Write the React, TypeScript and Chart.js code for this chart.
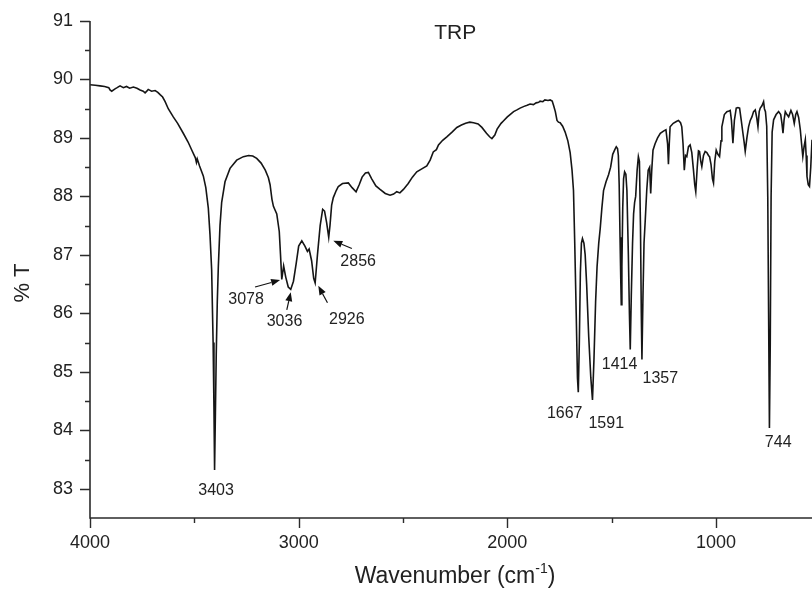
import React, { useEffect, useRef } from "react";
import { Chart, registerables } from "chart.js";

Chart.register(...registerables);

// ---- Data: IR spectrum of TRP, [wavenumber (cm-1), %T] ----
const BAND_4000_3100: [number, number][] = [
  [4000, 89.91], [3975, 89.9], [3952, 89.89], [3930, 89.88], [3910, 89.86], [3904, 89.82], [3896, 89.8],
  [3880, 89.84], [3870, 89.86], [3856, 89.89], [3840, 89.86], [3825, 89.88], [3810, 89.85], [3792, 89.87],
  [3775, 89.85], [3760, 89.82], [3745, 89.8], [3736, 89.77], [3728, 89.8], [3721, 89.83], [3705, 89.8],
  [3688, 89.81], [3675, 89.78], [3664, 89.74], [3652, 89.7], [3640, 89.62], [3625, 89.5], [3601, 89.36],
  [3580, 89.25], [3553, 89.08], [3530, 88.93], [3512, 88.79], [3495, 88.66], [3490, 88.58], [3486, 88.64],
  [3475, 88.52], [3457, 88.35], [3445, 88.15], [3433, 87.8], [3425, 87.35], [3417, 86.74], [3410, 85.5],
  [3406, 84.4], [3403, 83.32], [3399, 84.3], [3395, 85.3], [3390, 86.2], [3385, 86.8], [3377, 87.5],
  [3369, 87.9], [3353, 88.25], [3329, 88.48], [3297, 88.62], [3265, 88.68], [3240, 88.7], [3220, 88.69],
  [3201, 88.65], [3180, 88.57], [3160, 88.45], [3145, 88.32], [3137, 88.2], [3128, 87.95], [3121, 87.83],
];
const BAND_3100_2000: [number, number][] = [
  [3105, 87.7], [3093, 87.4], [3087, 87.0], [3081, 86.58], [3072, 86.81], [3062, 86.62], [3050, 86.45],
  [3038, 86.41], [3025, 86.55], [3012, 86.85], [3000, 87.15], [2985, 87.24], [2970, 87.15], [2958, 87.06],
  [2950, 87.1], [2938, 86.9], [2928, 86.6], [2921, 86.52], [2910, 87.0], [2897, 87.5], [2885, 87.78],
  [2876, 87.75], [2866, 87.55], [2856, 87.3], [2850, 87.5], [2842, 87.85], [2834, 87.98], [2820, 88.1],
  [2810, 88.17], [2790, 88.22], [2762, 88.23], [2744, 88.15], [2725, 88.08], [2710, 88.2], [2696, 88.33],
  [2680, 88.4], [2666, 88.41], [2650, 88.3], [2630, 88.18], [2610, 88.12], [2585, 88.05], [2562, 88.02],
  [2545, 88.04], [2530, 88.08], [2515, 88.06], [2498, 88.12], [2475, 88.22], [2455, 88.33], [2434, 88.42],
  [2410, 88.47], [2386, 88.52], [2370, 88.62], [2355, 88.76], [2340, 88.8], [2330, 88.88], [2310, 88.96],
  [2290, 89.02], [2265, 89.1], [2242, 89.18], [2220, 89.22], [2200, 89.25], [2180, 89.27], [2162, 89.26],
  [2140, 89.24], [2122, 89.18], [2100, 89.08], [2085, 89.02], [2074, 88.99], [2060, 89.05], [2049, 89.15],
  [2030, 89.25], [2019, 89.29],
];
const BAND_2000_1300: [number, number][] = [
  [2000, 89.36], [1987, 89.4], [1970, 89.45], [1954, 89.48], [1939, 89.51], [1920, 89.54], [1905, 89.56],
  [1891, 89.58], [1875, 89.57], [1862, 89.6], [1850, 89.61], [1843, 89.63], [1830, 89.62], [1820, 89.65],
  [1805, 89.64], [1795, 89.65], [1785, 89.63], [1778, 89.55], [1770, 89.45], [1762, 89.3], [1755, 89.27],
  [1747, 89.26], [1735, 89.2], [1723, 89.1], [1710, 88.95], [1699, 88.75], [1690, 88.45], [1683, 88.1],
  [1677, 87.2], [1670, 86.0], [1664, 84.9], [1660, 84.65], [1655, 85.5], [1650, 86.7], [1645, 87.2],
  [1640, 87.28], [1633, 87.2], [1627, 87.0], [1620, 86.5], [1610, 85.6], [1600, 84.9], [1592, 84.52],
  [1585, 85.2], [1577, 86.2], [1570, 86.8], [1562, 87.2], [1555, 87.45], [1547, 87.8], [1539, 88.1],
  [1527, 88.25], [1515, 88.37], [1505, 88.5], [1495, 88.72], [1485, 88.8], [1478, 88.85], [1472, 88.82],
  [1468, 88.7], [1464, 88.2], [1460, 87.3], [1456, 86.5], [1454, 86.15], [1451, 86.8], [1447, 87.8],
  [1443, 88.3], [1438, 88.42], [1432, 88.38], [1427, 88.1], [1420, 87.0], [1415, 86.0], [1411, 85.38],
  [1406, 86.3], [1400, 87.2], [1395, 87.7], [1390, 87.9], [1385, 88.0], [1378, 88.45], [1372, 88.68],
  [1367, 88.6], [1362, 87.5], [1358, 86.0], [1355, 85.21], [1350, 86.3], [1345, 87.2], [1339, 87.6],
  [1332, 88.1], [1325, 88.45], [1318, 88.5], [1313, 88.05], [1308, 88.45], [1302, 88.79],
];
const BAND_1300_540: [number, number][] = [
  [1292, 88.9], [1280, 89.0], [1267, 89.08], [1250, 89.12], [1240, 89.14], [1232, 88.9], [1228, 88.55],
  [1224, 88.9], [1220, 89.19], [1205, 89.25], [1190, 89.28], [1180, 89.3], [1170, 89.26], [1164, 89.19],
  [1158, 88.9], [1152, 88.45], [1146, 88.7], [1140, 88.68], [1132, 88.85], [1124, 88.88], [1116, 88.75],
  [1108, 88.45], [1102, 88.2], [1097, 88.08], [1090, 88.5], [1084, 88.78], [1079, 88.77], [1073, 88.6],
  [1068, 88.51], [1060, 88.7], [1052, 88.77], [1044, 88.75], [1036, 88.7], [1031, 88.68], [1024, 88.55],
  [1017, 88.3], [1012, 88.23], [1006, 88.6], [999, 88.79], [991, 88.72], [983, 88.68], [976, 88.95],
  [972, 89.19], [960, 89.4], [948, 89.45], [938, 89.46], [932, 89.47], [926, 89.3], [919, 88.91],
  [912, 89.3], [903, 89.51], [895, 89.52], [887, 89.51], [879, 89.3], [871, 89.08], [866, 88.95],
  [860, 88.77], [852, 89.0], [844, 89.19], [836, 89.3], [828, 89.36], [820, 89.45], [812, 89.48],
  [805, 89.35], [799, 89.19], [793, 89.45], [788, 89.51], [780, 89.55], [772, 89.62], [768, 89.5],
  [763, 89.45], [757, 89.2], [752, 88.0], [748, 86.0], [744, 84.04], [740, 85.5], [736, 88.0],
  [731, 89.1], [724, 89.31], [712, 89.4], [700, 89.45], [690, 89.4], [684, 89.25], [679, 89.08],
  [674, 89.3], [668, 89.45], [660, 89.4], [652, 89.36], [646, 89.42], [641, 89.47], [633, 89.4],
  [625, 89.25], [618, 89.4], [612, 89.45], [604, 89.35], [596, 89.14], [590, 88.9], [584, 88.68],
  [578, 88.85], [572, 88.97], [568, 88.7], [564, 88.34], [558, 88.2], [552, 88.17], [546, 88.5], [540, 88.97],
];

// Axis ranges and ticks
const X_MIN = 540;
const X_MAX = 4000;
const Y_MIN = 82.5;
const Y_MAX = 91;
const X_MAJOR_TICKS = [4000, 3000, 2000, 1000];
const X_MINOR_TICKS = [3500, 2500, 1500];
const Y_MAJOR_TICKS = [83, 84, 85, 86, 87, 88, 89, 90, 91];
const Y_MINOR_TICKS = [83.5, 84.5, 85.5, 86.5, 87.5, 88.5, 89.5, 90.5];

// Peak labels: text, label anchor (wavenumber, %T)
const PEAK_LABELS: [string, number, number][] = [
  ["3403", 3396, 82.97],
  ["3078", 3252, 86.24],
  ["3036", 3068, 85.86],
  ["2926", 2769, 85.9],
  ["2856", 2715, 86.88],
  ["1667", 1725, 84.29],
  ["1591", 1526, 84.12],
  ["1414", 1462, 85.12],
  ["1357", 1267, 84.89],
  ["744", 702, 83.79],
];
// Arrows: from (wn, %T) to (wn, %T)
const PEAK_ARROWS: [number, number, number, number][] = [
  [3209, 86.45, 3089, 86.57],
  [3057, 86.06, 3038, 86.36],
  [2862, 86.18, 2906, 86.47],
  [2745, 87.11, 2834, 87.24],
];
const TITLE: [string, number, number] = ["TRP", 2250, 90.79];

const FONT = '"Liberation Sans", Arial, Helvetica, sans-serif';

export default function App() {
  const ref = useRef<HTMLCanvasElement | null>(null);

  useEffect(() => {
    const canvas = ref.current;
    if (!canvas) return;
    const data = [...BAND_4000_3100, ...BAND_3100_2000, ...BAND_2000_1300, ...BAND_1300_540].map(
      ([x, y]) => ({ x, y })
    );

    const decor = {
      id: "irDecor",
      afterDraw(chart: any) {
        const ctx = chart.ctx as CanvasRenderingContext2D;
        const xs = chart.scales.x;
        const ys = chart.scales.y;
        const area = chart.chartArea;
        const axisColor = "#2b2b2b";
        const textColor = "#222";
        ctx.save();
        // axes lines
        ctx.strokeStyle = axisColor;
        ctx.lineWidth = 1.6;
        ctx.beginPath();
        ctx.moveTo(area.left, ys.getPixelForValue(Y_MAX));
        ctx.lineTo(area.left, area.bottom);
        ctx.lineTo(area.right, area.bottom);
        ctx.stroke();
        // y ticks
        ctx.lineWidth = 1.4;
        ctx.beginPath();
        Y_MAJOR_TICKS.forEach((v) => {
          const py = Math.round(ys.getPixelForValue(v)) + 0.5;
          ctx.moveTo(area.left - 10, py);
          ctx.lineTo(area.left, py);
        });
        Y_MINOR_TICKS.forEach((v) => {
          const py = Math.round(ys.getPixelForValue(v)) + 0.5;
          ctx.moveTo(area.left - 5, py);
          ctx.lineTo(area.left, py);
        });
        X_MAJOR_TICKS.forEach((v) => {
          const px = Math.round(xs.getPixelForValue(v)) + 0.5;
          ctx.moveTo(px, area.bottom);
          ctx.lineTo(px, area.bottom + 10);
        });
        X_MINOR_TICKS.forEach((v) => {
          const px = Math.round(xs.getPixelForValue(v)) + 0.5;
          ctx.moveTo(px, area.bottom);
          ctx.lineTo(px, area.bottom + 5);
        });
        ctx.stroke();

        // tick labels
        ctx.fillStyle = textColor;
        ctx.font = `18px ${FONT}`;
        ctx.textAlign = "right";
        ctx.textBaseline = "middle";
        Y_MAJOR_TICKS.forEach((v) => {
          ctx.fillText(String(v), area.left - 17, ys.getPixelForValue(v));
        });
        ctx.textAlign = "center";
        X_MAJOR_TICKS.forEach((v) => {
          ctx.fillText(String(v), xs.getPixelForValue(v), area.bottom + 25);
        });

        // x title with superscript
        const main = "Wavenumber (cm";
        const sup = "-1";
        const close = ")";
        ctx.font = `23px ${FONT}`;
        const wMain = ctx.measureText(main).width;
        const wClose = ctx.measureText(close).width;
        ctx.font = `14px ${FONT}`;
        const wSup = ctx.measureText(sup).width;
        const total = wMain + wSup + wClose;
        const cx = (area.left + area.right) / 2 + 4;
        let tx = cx - total / 2;
        const ty = area.bottom + 59;
        ctx.textAlign = "left";
        ctx.textBaseline = "middle";
        ctx.font = `23px ${FONT}`;
        ctx.fillText(main, tx, ty);
        tx += wMain;
        ctx.font = `14px ${FONT}`;
        ctx.fillText(sup, tx, ty - 8);
        tx += wSup;
        ctx.font = `23px ${FONT}`;
        ctx.fillText(close, tx, ty);

        // y title
        ctx.save();
        ctx.translate(23, 283);
        ctx.rotate(-Math.PI / 2);
        ctx.textAlign = "center";
        ctx.font = `22px ${FONT}`;
        ctx.fillText("% T", 0, 0);
        ctx.restore();

        // chart title
        ctx.font = `21px ${FONT}`;
        ctx.textAlign = "center";
        ctx.fillText(TITLE[0], xs.getPixelForValue(TITLE[1]), ys.getPixelForValue(TITLE[2]));

        // peak labels
        ctx.font = `16px ${FONT}`;
        PEAK_LABELS.forEach(([t, wn, v]) => {
          ctx.fillText(t, xs.getPixelForValue(wn), ys.getPixelForValue(v));
        });

        // arrows
        ctx.strokeStyle = "#111";
        ctx.fillStyle = "#111";
        ctx.lineWidth = 1.2;
        PEAK_ARROWS.forEach(([w1, t1, w2, t2]) => {
          const x1 = xs.getPixelForValue(w1);
          const y1 = ys.getPixelForValue(t1);
          const x2 = xs.getPixelForValue(w2);
          const y2 = ys.getPixelForValue(t2);
          const ang = Math.atan2(y2 - y1, x2 - x1);
          const hl = 9;
          const hw = 3.5;
          const bx = x2 - hl * Math.cos(ang);
          const by = y2 - hl * Math.sin(ang);
          ctx.beginPath();
          ctx.moveTo(x1, y1);
          ctx.lineTo(bx, by);
          ctx.stroke();
          ctx.beginPath();
          ctx.moveTo(x2, y2);
          ctx.lineTo(bx + hw * Math.sin(ang), by - hw * Math.cos(ang));
          ctx.lineTo(bx - hw * Math.sin(ang), by + hw * Math.cos(ang));
          ctx.closePath();
          ctx.fill();
        });
        ctx.restore();
      },
    };

    const chart = new Chart(canvas, {
      type: "line",
      data: {
        datasets: [
          {
            data,
            borderColor: "#151515",
            borderWidth: 1.6,
            pointRadius: 0,
            tension: 0,
            fill: false,
          },
        ],
      },
      options: {
        animation: false,
        responsive: false,
        maintainAspectRatio: false,
        events: [],
        layout: { padding: { left: 90, top: 21, right: 0, bottom: 74 } },
        plugins: { legend: { display: false }, tooltip: { enabled: false }, title: { display: false } },
        scales: {
          x: { type: "linear", reverse: true, min: X_MIN, max: X_MAX, display: false },
          y: { type: "linear", min: Y_MIN, max: Y_MAX, display: false },
        },
      },
      plugins: [decor],
    });
    return () => chart.destroy();
  }, []);

  return (
    <div style={{ position: "absolute", left: 0, top: 0, width: 812, height: 592, background: "#fff" }}>
      <canvas ref={ref} width={812} height={592} style={{ display: "block" }} />
    </div>
  );
}
